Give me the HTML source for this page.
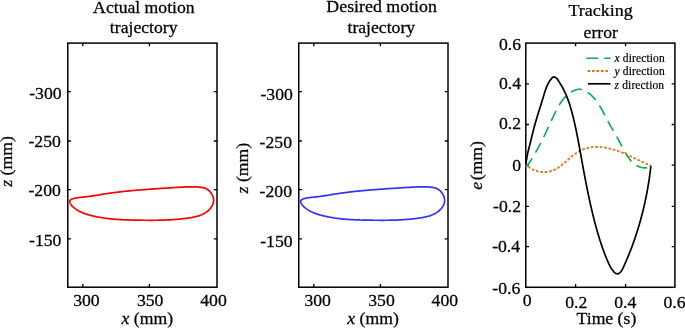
<!DOCTYPE html>
<html><head><meta charset="utf-8"><title>Trajectory tracking</title>
<style>html,body{margin:0;padding:0;background:#fff;overflow:hidden}svg{display:block}</style></head>
<body>
<svg width="685" height="328" viewBox="0 0 685 328">
<rect width="685" height="328" fill="#fff"/>
<g font-family="'Liberation Serif', serif" font-size="17" fill="#000" stroke="#000" stroke-width="0.25">
<rect x="67.75" y="43.1" width="149.25" height="244.10" fill="none" stroke="#000" stroke-width="1.5"/>
<path d="M82.8 43.1v3.2M82.8 287.2v-3.2M149.4 43.1v3.2M149.4 287.2v-3.2M67.75 91.7h3.2M217 91.7h-3.2M67.75 141.0h3.2M217 141.0h-3.2M67.75 189.7h3.2M217 189.7h-3.2M67.75 238.8h3.2M217 238.8h-3.2" stroke="#000" stroke-width="1.3" fill="none"/>
<path d="M69.66 201.32 L69.85 200.67 L70.23 200.10 L70.77 199.63 L71.43 199.26 L72.17 198.96 L72.94 198.72 L73.72 198.50 L74.50 198.31 L75.28 198.14 L76.06 197.98 L76.84 197.85 L77.61 197.72 L78.39 197.61 L79.17 197.51 L79.94 197.42 L80.71 197.34 L81.49 197.26 L82.26 197.18 L83.03 197.10 L83.81 197.03 L84.58 196.95 L85.35 196.86 L86.12 196.78 L86.89 196.68 L87.67 196.59 L88.44 196.49 L89.21 196.38 L89.98 196.28 L90.75 196.17 L91.52 196.06 L92.29 195.94 L93.06 195.83 L93.83 195.71 L94.60 195.59 L95.37 195.46 L96.14 195.34 L96.91 195.22 L97.68 195.09 L98.46 194.97 L99.23 194.84 L100.00 194.71 L100.77 194.59 L101.54 194.46 L102.31 194.34 L103.08 194.21 L103.85 194.09 L104.62 193.97 L105.39 193.85 L106.17 193.73 L106.94 193.61 L107.71 193.50 L108.48 193.38 L109.25 193.27 L110.03 193.16 L110.80 193.05 L111.57 192.95 L112.34 192.84 L113.12 192.74 L113.89 192.64 L114.66 192.54 L115.44 192.44 L116.21 192.34 L116.99 192.24 L117.76 192.15 L118.53 192.06 L119.31 191.96 L120.08 191.87 L120.86 191.78 L121.63 191.70 L122.41 191.61 L123.18 191.52 L123.96 191.44 L124.73 191.36 L125.51 191.27 L126.28 191.19 L127.06 191.11 L127.83 191.04 L128.61 190.96 L129.39 190.88 L130.16 190.81 L130.94 190.73 L131.71 190.66 L132.49 190.59 L133.27 190.52 L134.04 190.45 L134.82 190.38 L135.60 190.31 L136.37 190.24 L137.15 190.17 L137.93 190.11 L138.71 190.04 L139.48 189.98 L140.26 189.91 L141.04 189.85 L141.81 189.79 L142.59 189.73 L143.37 189.66 L144.15 189.60 L144.92 189.54 L145.70 189.49 L146.48 189.43 L147.26 189.37 L148.04 189.31 L148.81 189.25 L149.59 189.20 L150.37 189.14 L151.15 189.09 L151.93 189.03 L152.70 188.98 L153.48 188.92 L154.26 188.87 L155.04 188.81 L155.82 188.76 L156.59 188.71 L157.37 188.65 L158.15 188.60 L158.93 188.55 L159.71 188.50 L160.49 188.44 L161.26 188.39 L162.04 188.34 L162.82 188.29 L163.60 188.24 L164.38 188.19 L165.16 188.14 L165.93 188.09 L166.71 188.04 L167.49 187.99 L168.27 187.94 L169.05 187.90 L169.83 187.85 L170.61 187.80 L171.38 187.75 L172.16 187.71 L172.94 187.66 L173.72 187.61 L174.50 187.57 L175.28 187.52 L176.05 187.47 L176.83 187.43 L177.61 187.38 L178.39 187.34 L179.17 187.30 L179.95 187.25 L180.72 187.21 L181.50 187.16 L182.28 187.12 L183.06 187.08 L183.84 187.04 L184.62 187.00 L185.39 186.96 L186.17 186.93 L186.95 186.89 L187.73 186.87 L188.51 186.84 L189.29 186.82 L190.07 186.80 L190.85 186.79 L191.63 186.79 L192.41 186.79 L193.19 186.79 L193.97 186.80 L194.75 186.82 L195.53 186.85 L196.31 186.89 L197.10 186.93 L197.88 186.98 L198.66 187.04 L199.45 187.11 L200.23 187.19 L201.01 187.29 L201.78 187.40 L202.55 187.54 L203.31 187.71 L204.05 187.91 L204.78 188.14 L205.49 188.42 L206.19 188.73 L206.86 189.10 L207.51 189.51 L208.13 189.96 L208.73 190.46 L209.30 190.99 L209.85 191.56 L210.36 192.16 L210.85 192.80 L211.31 193.46 L211.74 194.14 L212.13 194.84 L212.49 195.57 L212.80 196.31 L213.07 197.05 L213.29 197.81 L213.46 198.57 L213.58 199.34 L213.64 200.10 L213.64 200.86 L213.58 201.61 L213.47 202.36 L213.29 203.09 L213.07 203.82 L212.79 204.53 L212.47 205.23 L212.11 205.91 L211.71 206.58 L211.27 207.24 L210.80 207.87 L210.29 208.49 L209.77 209.09 L209.21 209.66 L208.64 210.22 L208.05 210.75 L207.44 211.25 L206.82 211.73 L206.19 212.19 L205.55 212.62 L204.90 213.03 L204.23 213.42 L203.55 213.79 L202.87 214.14 L202.18 214.47 L201.47 214.78 L200.76 215.07 L200.04 215.35 L199.31 215.61 L198.58 215.85 L197.84 216.08 L197.09 216.29 L196.34 216.50 L195.58 216.69 L194.82 216.87 L194.05 217.04 L193.29 217.20 L192.51 217.35 L191.74 217.49 L190.96 217.62 L190.18 217.75 L189.40 217.87 L188.62 217.99 L187.84 218.10 L187.06 218.21 L186.28 218.32 L185.50 218.42 L184.72 218.52 L183.95 218.62 L183.17 218.71 L182.39 218.80 L181.61 218.88 L180.83 218.97 L180.05 219.04 L179.27 219.12 L178.50 219.19 L177.72 219.27 L176.94 219.33 L176.16 219.40 L175.39 219.46 L174.61 219.52 L173.83 219.58 L173.05 219.63 L172.28 219.68 L171.50 219.73 L170.72 219.78 L169.95 219.82 L169.17 219.86 L168.39 219.90 L167.62 219.94 L166.84 219.97 L166.06 220.01 L165.29 220.04 L164.51 220.06 L163.73 220.09 L162.96 220.11 L162.18 220.14 L161.40 220.16 L160.63 220.18 L159.85 220.19 L159.07 220.21 L158.30 220.22 L157.52 220.23 L156.74 220.24 L155.97 220.25 L155.19 220.26 L154.41 220.27 L153.63 220.27 L152.86 220.28 L152.08 220.28 L151.30 220.28 L150.52 220.28 L149.75 220.28 L148.97 220.28 L148.19 220.27 L147.41 220.27 L146.63 220.26 L145.85 220.26 L145.07 220.25 L144.29 220.24 L143.51 220.24 L142.73 220.23 L141.95 220.22 L141.17 220.21 L140.39 220.20 L139.61 220.19 L138.83 220.18 L138.05 220.17 L137.27 220.15 L136.49 220.14 L135.71 220.13 L134.92 220.12 L134.14 220.10 L133.36 220.09 L132.58 220.07 L131.79 220.05 L131.01 220.03 L130.23 220.01 L129.45 219.99 L128.66 219.97 L127.88 219.95 L127.10 219.92 L126.32 219.89 L125.53 219.86 L124.75 219.83 L123.97 219.80 L123.19 219.77 L122.40 219.73 L121.62 219.69 L120.84 219.65 L120.06 219.60 L119.28 219.56 L118.50 219.51 L117.72 219.46 L116.94 219.41 L116.16 219.35 L115.38 219.29 L114.60 219.23 L113.83 219.16 L113.05 219.10 L112.27 219.03 L111.50 218.95 L110.72 218.87 L109.94 218.79 L109.17 218.71 L108.40 218.62 L107.62 218.53 L106.85 218.43 L106.08 218.34 L105.31 218.23 L104.53 218.13 L103.76 218.01 L103.00 217.90 L102.23 217.78 L101.46 217.66 L100.69 217.53 L99.93 217.40 L99.16 217.26 L98.40 217.12 L97.64 216.97 L96.87 216.82 L96.11 216.67 L95.35 216.51 L94.59 216.34 L93.83 216.17 L93.08 215.99 L92.32 215.81 L91.57 215.63 L90.81 215.43 L90.06 215.24 L89.31 215.03 L88.56 214.82 L87.82 214.60 L87.07 214.37 L86.33 214.14 L85.60 213.89 L84.86 213.63 L84.13 213.37 L83.41 213.09 L82.69 212.80 L81.97 212.50 L81.26 212.18 L80.56 211.85 L79.86 211.51 L79.17 211.15 L78.48 210.77 L77.80 210.38 L77.13 209.98 L76.47 209.55 L75.81 209.11 L75.16 208.65 L74.52 208.17 L73.89 207.67 L73.28 207.15 L72.70 206.60 L72.13 206.03 L71.61 205.43 L71.12 204.81 L70.67 204.15 L70.28 203.46 L69.94 202.74 L69.71 202.02 L69.66 201.32 Z" fill="none" stroke="#ff0000" stroke-width="1.7" stroke-linejoin="round"/>
<text transform="translate(143.9,12.7) scale(1.0400,1)" text-anchor="middle" >Actual motion</text>
<text transform="translate(143.7,33.3) scale(1.0400,1)" text-anchor="middle" >trajectory</text>
<text transform="translate(61.6,98.5) scale(1.0400,1)" text-anchor="end" >-300</text>
<text transform="translate(60.8,147.1) scale(1.0400,1)" text-anchor="end" >-250</text>
<text transform="translate(60.8,195.7) scale(1.0400,1)" text-anchor="end" >-200</text>
<text transform="translate(61.4,245.5) scale(1.0400,1)" text-anchor="end" >-150</text>
<text transform="translate(86.4,305.5) scale(1.0400,1)" text-anchor="middle" >300</text>
<text transform="translate(150.2,305.5) scale(1.0400,1)" text-anchor="middle" >350</text>
<text transform="translate(213.5,305.5) scale(1.0400,1)" text-anchor="middle" >400</text>
<text transform="translate(147.3,324.1) scale(1.0400,1)" text-anchor="middle" ><tspan font-style="italic">x</tspan> (mm)</text>
<text transform="translate(12,161.5) rotate(-90) scale(1.0400,1)" text-anchor="middle" ><tspan font-style="italic">z</tspan> (mm)</text>
<rect x="298.75" y="43.1" width="149.25" height="244.10" fill="none" stroke="#000" stroke-width="1.5"/>
<path d="M313.8 43.1v3.2M313.8 287.2v-3.2M380.4 43.1v3.2M380.4 287.2v-3.2M298.75 91.7h3.2M448 91.7h-3.2M298.75 141.0h3.2M448 141.0h-3.2M298.75 189.7h3.2M448 189.7h-3.2M298.75 238.8h3.2M448 238.8h-3.2" stroke="#000" stroke-width="1.3" fill="none"/>
<path d="M300.66 201.32 L300.85 200.67 L301.23 200.10 L301.77 199.63 L302.43 199.26 L303.17 198.96 L303.94 198.72 L304.72 198.50 L305.50 198.31 L306.28 198.14 L307.06 197.98 L307.84 197.85 L308.61 197.72 L309.39 197.61 L310.17 197.51 L310.94 197.42 L311.71 197.34 L312.49 197.26 L313.26 197.18 L314.03 197.10 L314.81 197.03 L315.58 196.95 L316.35 196.86 L317.12 196.78 L317.89 196.68 L318.67 196.59 L319.44 196.49 L320.21 196.38 L320.98 196.28 L321.75 196.17 L322.52 196.06 L323.29 195.94 L324.06 195.83 L324.83 195.71 L325.60 195.59 L326.37 195.46 L327.14 195.34 L327.91 195.22 L328.68 195.09 L329.46 194.97 L330.23 194.84 L331.00 194.71 L331.77 194.59 L332.54 194.46 L333.31 194.34 L334.08 194.21 L334.85 194.09 L335.62 193.97 L336.39 193.85 L337.17 193.73 L337.94 193.61 L338.71 193.50 L339.48 193.38 L340.25 193.27 L341.03 193.16 L341.80 193.05 L342.57 192.95 L343.34 192.84 L344.12 192.74 L344.89 192.64 L345.66 192.54 L346.44 192.44 L347.21 192.34 L347.99 192.24 L348.76 192.15 L349.53 192.06 L350.31 191.96 L351.08 191.87 L351.86 191.78 L352.63 191.70 L353.41 191.61 L354.18 191.52 L354.96 191.44 L355.73 191.36 L356.51 191.27 L357.28 191.19 L358.06 191.11 L358.83 191.04 L359.61 190.96 L360.39 190.88 L361.16 190.81 L361.94 190.73 L362.71 190.66 L363.49 190.59 L364.27 190.52 L365.04 190.45 L365.82 190.38 L366.60 190.31 L367.37 190.24 L368.15 190.17 L368.93 190.11 L369.71 190.04 L370.48 189.98 L371.26 189.91 L372.04 189.85 L372.81 189.79 L373.59 189.73 L374.37 189.66 L375.15 189.60 L375.92 189.54 L376.70 189.49 L377.48 189.43 L378.26 189.37 L379.04 189.31 L379.81 189.25 L380.59 189.20 L381.37 189.14 L382.15 189.09 L382.93 189.03 L383.70 188.98 L384.48 188.92 L385.26 188.87 L386.04 188.81 L386.82 188.76 L387.59 188.71 L388.37 188.65 L389.15 188.60 L389.93 188.55 L390.71 188.50 L391.49 188.44 L392.26 188.39 L393.04 188.34 L393.82 188.29 L394.60 188.24 L395.38 188.19 L396.16 188.14 L396.93 188.09 L397.71 188.04 L398.49 187.99 L399.27 187.94 L400.05 187.90 L400.83 187.85 L401.61 187.80 L402.38 187.75 L403.16 187.71 L403.94 187.66 L404.72 187.61 L405.50 187.57 L406.28 187.52 L407.05 187.47 L407.83 187.43 L408.61 187.38 L409.39 187.34 L410.17 187.30 L410.95 187.25 L411.72 187.21 L412.50 187.16 L413.28 187.12 L414.06 187.08 L414.84 187.04 L415.62 187.00 L416.39 186.96 L417.17 186.93 L417.95 186.89 L418.73 186.87 L419.51 186.84 L420.29 186.82 L421.07 186.80 L421.85 186.79 L422.63 186.79 L423.41 186.79 L424.19 186.79 L424.97 186.80 L425.75 186.82 L426.53 186.85 L427.31 186.89 L428.10 186.93 L428.88 186.98 L429.66 187.04 L430.45 187.11 L431.23 187.19 L432.01 187.29 L432.78 187.40 L433.55 187.54 L434.31 187.71 L435.05 187.91 L435.78 188.14 L436.49 188.42 L437.19 188.73 L437.86 189.10 L438.51 189.51 L439.13 189.96 L439.73 190.46 L440.30 190.99 L440.85 191.56 L441.36 192.16 L441.85 192.80 L442.31 193.46 L442.74 194.14 L443.13 194.84 L443.49 195.57 L443.80 196.31 L444.07 197.05 L444.29 197.81 L444.46 198.57 L444.58 199.34 L444.64 200.10 L444.64 200.86 L444.58 201.61 L444.47 202.36 L444.29 203.09 L444.07 203.82 L443.79 204.53 L443.47 205.23 L443.11 205.91 L442.71 206.58 L442.27 207.24 L441.80 207.87 L441.29 208.49 L440.77 209.09 L440.21 209.66 L439.64 210.22 L439.05 210.75 L438.44 211.25 L437.82 211.73 L437.19 212.19 L436.55 212.62 L435.90 213.03 L435.23 213.42 L434.55 213.79 L433.87 214.14 L433.18 214.47 L432.47 214.78 L431.76 215.07 L431.04 215.35 L430.31 215.61 L429.58 215.85 L428.84 216.08 L428.09 216.29 L427.34 216.50 L426.58 216.69 L425.82 216.87 L425.05 217.04 L424.29 217.20 L423.51 217.35 L422.74 217.49 L421.96 217.62 L421.18 217.75 L420.40 217.87 L419.62 217.99 L418.84 218.10 L418.06 218.21 L417.28 218.32 L416.50 218.42 L415.72 218.52 L414.95 218.62 L414.17 218.71 L413.39 218.80 L412.61 218.88 L411.83 218.97 L411.05 219.04 L410.27 219.12 L409.50 219.19 L408.72 219.27 L407.94 219.33 L407.16 219.40 L406.39 219.46 L405.61 219.52 L404.83 219.58 L404.05 219.63 L403.28 219.68 L402.50 219.73 L401.72 219.78 L400.95 219.82 L400.17 219.86 L399.39 219.90 L398.62 219.94 L397.84 219.97 L397.06 220.01 L396.29 220.04 L395.51 220.06 L394.73 220.09 L393.96 220.11 L393.18 220.14 L392.40 220.16 L391.63 220.18 L390.85 220.19 L390.07 220.21 L389.30 220.22 L388.52 220.23 L387.74 220.24 L386.97 220.25 L386.19 220.26 L385.41 220.27 L384.63 220.27 L383.86 220.28 L383.08 220.28 L382.30 220.28 L381.52 220.28 L380.75 220.28 L379.97 220.28 L379.19 220.27 L378.41 220.27 L377.63 220.26 L376.85 220.26 L376.07 220.25 L375.29 220.24 L374.51 220.24 L373.73 220.23 L372.95 220.22 L372.17 220.21 L371.39 220.20 L370.61 220.19 L369.83 220.18 L369.05 220.17 L368.27 220.15 L367.49 220.14 L366.71 220.13 L365.92 220.12 L365.14 220.10 L364.36 220.09 L363.58 220.07 L362.79 220.05 L362.01 220.03 L361.23 220.01 L360.45 219.99 L359.66 219.97 L358.88 219.95 L358.10 219.92 L357.32 219.89 L356.53 219.86 L355.75 219.83 L354.97 219.80 L354.19 219.77 L353.40 219.73 L352.62 219.69 L351.84 219.65 L351.06 219.60 L350.28 219.56 L349.50 219.51 L348.72 219.46 L347.94 219.41 L347.16 219.35 L346.38 219.29 L345.60 219.23 L344.83 219.16 L344.05 219.10 L343.27 219.03 L342.50 218.95 L341.72 218.87 L340.94 218.79 L340.17 218.71 L339.40 218.62 L338.62 218.53 L337.85 218.43 L337.08 218.34 L336.31 218.23 L335.53 218.13 L334.76 218.01 L334.00 217.90 L333.23 217.78 L332.46 217.66 L331.69 217.53 L330.93 217.40 L330.16 217.26 L329.40 217.12 L328.64 216.97 L327.87 216.82 L327.11 216.67 L326.35 216.51 L325.59 216.34 L324.83 216.17 L324.08 215.99 L323.32 215.81 L322.57 215.63 L321.81 215.43 L321.06 215.24 L320.31 215.03 L319.56 214.82 L318.82 214.60 L318.07 214.37 L317.33 214.14 L316.60 213.89 L315.86 213.63 L315.13 213.37 L314.41 213.09 L313.69 212.80 L312.97 212.50 L312.26 212.18 L311.56 211.85 L310.86 211.51 L310.17 211.15 L309.48 210.77 L308.80 210.38 L308.13 209.98 L307.47 209.55 L306.81 209.11 L306.16 208.65 L305.52 208.17 L304.89 207.67 L304.28 207.15 L303.70 206.60 L303.13 206.03 L302.61 205.43 L302.12 204.81 L301.67 204.15 L301.28 203.46 L300.94 202.74 L300.71 202.02 L300.66 201.32 Z" fill="none" stroke="#3333ff" stroke-width="1.7" stroke-linejoin="round"/>
<text transform="translate(381.6,12.2) scale(1.0504,1)" text-anchor="middle" >Desired motion</text>
<text transform="translate(381.3,33.3) scale(1.0400,1)" text-anchor="middle" >trajectory</text>
<text transform="translate(292.8,99.6) scale(1.0400,1)" text-anchor="end" >-300</text>
<text transform="translate(292.0,148.2) scale(1.0400,1)" text-anchor="end" >-250</text>
<text transform="translate(292.0,196.79999999999998) scale(1.0400,1)" text-anchor="end" >-200</text>
<text transform="translate(292.59999999999997,246.6) scale(1.0400,1)" text-anchor="end" >-150</text>
<text transform="translate(317.70000000000005,305.5) scale(1.0400,1)" text-anchor="middle" >300</text>
<text transform="translate(381.5,305.5) scale(1.0400,1)" text-anchor="middle" >350</text>
<text transform="translate(444.8,305.5) scale(1.0400,1)" text-anchor="middle" >400</text>
<text transform="translate(373.1,324.1) scale(1.0400,1)" text-anchor="middle" ><tspan font-style="italic">x</tspan> (mm)</text>
<text transform="translate(247.8,168.1) rotate(-90) scale(1.0400,1)" text-anchor="middle" ><tspan font-style="italic">z</tspan> (mm)</text>
<rect x="525.8" y="43.1" width="149.10" height="244.20" fill="none" stroke="#000" stroke-width="1.5"/>
<path d="M575.6 43.1v3.2M575.6 287.3v-3.2M625.6 43.1v3.2M625.6 287.3v-3.2M525.8 83.9h3.2M674.9 83.9h-3.2M525.8 124.5h3.2M674.9 124.5h-3.2M525.8 165.2h3.2M674.9 165.2h-3.2M525.8 206.3h3.2M674.9 206.3h-3.2M525.8 246.6h3.2M674.9 246.6h-3.2" stroke="#000" stroke-width="1.3" fill="none"/>
<path d="M525.84 167.61 L526.16 167.17 L526.47 166.73 L526.79 166.29 L527.10 165.85 L527.41 165.41 L527.72 164.96 L528.02 164.52 L528.33 164.08 L528.63 163.64 L528.93 163.19 L529.23 162.75 L529.52 162.31 L529.82 161.86 L530.11 161.42 L530.40 160.97 L530.69 160.52 L530.98 160.08 L531.26 159.63 L531.55 159.18 L531.83 158.74 L532.11 158.29 L532.39 157.84 L532.67 157.39 L532.94 156.94 L533.22 156.49 L533.49 156.04 L533.76 155.59 L534.03 155.14 L534.30 154.69 L534.56 154.23 L534.83 153.78 L535.09 153.33 L535.36 152.88 L535.62 152.42 L535.88 151.97 L536.14 151.51 L536.39 151.06 L536.65 150.60 L536.90 150.14 L537.16 149.69 L537.41 149.23 L537.66 148.77 L537.91 148.31 L538.16 147.86 L538.41 147.40 L538.66 146.94 L538.90 146.48 L539.15 146.02 L539.39 145.56 L539.63 145.09 L539.88 144.63 L540.12 144.17 L540.36 143.71 L540.60 143.24 L540.83 142.78 L541.07 142.31 L541.31 141.85 L541.54 141.38 L541.78 140.92 L542.01 140.45 L542.25 139.99 L542.48 139.52 L542.71 139.05 L542.95 138.58 L543.18 138.11 L543.41 137.64 L543.64 137.17 L543.87 136.70 L544.10 136.23 L544.32 135.76 L544.55 135.29 L544.78 134.82 L545.01 134.35 L545.23 133.87 L545.46 133.40 L545.69 132.93 L545.91 132.45 L546.14 131.98 L546.36 131.50 L546.59 131.02 L546.81 130.55 L547.04 130.07 L547.26 129.59 L547.49 129.11 L547.71 128.64 L547.93 128.16 L548.16 127.68 L548.38 127.20 L548.60 126.72 L548.83 126.23 L549.05 125.75 L549.28 125.27 L549.50 124.79 L549.72 124.30 L549.95 123.82 L550.17 123.34 L550.40 122.85 L550.62 122.37 L550.84 121.88 L551.07 121.39 L551.29 120.91 L551.52 120.42 L551.74 119.93 L551.97 119.44 L552.20 118.95 L552.42 118.47 L552.65 117.98 L552.88 117.48 L553.11 116.99 L553.33 116.50 L553.56 116.01 L553.79 115.52 L554.02 115.03 L554.26 114.54 L554.49 114.05 L554.72 113.56 L554.96 113.07 L555.20 112.58 L555.44 112.09 L555.68 111.60 L555.92 111.12 L556.16 110.63 L556.41 110.15 L556.66 109.67 L556.91 109.19 L557.16 108.71 L557.42 108.24 L557.68 107.76 L557.94 107.29 L558.20 106.82 L558.46 106.36 L558.73 105.89 L559.01 105.43 L559.28 104.97 L559.56 104.52 L559.84 104.07 L560.13 103.62 L560.42 103.17 L560.71 102.73 L561.00 102.29 L561.30 101.86 L561.61 101.43 L561.92 101.00 L562.23 100.58 L562.55 100.16 L562.87 99.75 L563.19 99.34 L563.52 98.93 L563.86 98.53 L564.20 98.14 L564.54 97.75 L564.89 97.37 L565.25 96.99 L565.61 96.61 L565.98 96.25 L566.35 95.89 L566.72 95.53 L567.11 95.18 L567.50 94.84 L567.89 94.50 L568.29 94.17 L568.70 93.84 L569.11 93.53 L569.53 93.21 L569.95 92.91 L570.39 92.61 L570.83 92.32 L571.27 92.04 L571.72 91.77 L572.18 91.50 L572.65 91.24 L573.12 91.00 L573.59 90.76 L574.07 90.54 L574.55 90.34 L575.04 90.14 L575.53 89.97 L576.03 89.81 L576.52 89.67 L577.02 89.55 L577.52 89.45 L578.02 89.37 L578.52 89.31 L579.02 89.28 L579.52 89.27 L580.02 89.29 L580.52 89.34 L581.01 89.41 L581.51 89.50 L582.00 89.61 L582.49 89.75 L582.98 89.91 L583.46 90.09 L583.94 90.28 L584.42 90.49 L584.89 90.72 L585.36 90.96 L585.82 91.21 L586.28 91.47 L586.73 91.75 L587.17 92.03 L587.61 92.32 L588.04 92.62 L588.47 92.92 L588.89 93.23 L589.31 93.55 L589.71 93.88 L590.12 94.21 L590.51 94.55 L590.91 94.90 L591.29 95.25 L591.67 95.60 L592.05 95.97 L592.42 96.34 L592.79 96.71 L593.15 97.09 L593.51 97.48 L593.86 97.87 L594.20 98.27 L594.55 98.67 L594.89 99.07 L595.22 99.48 L595.55 99.90 L595.88 100.32 L596.20 100.74 L596.52 101.17 L596.83 101.60 L597.14 102.04 L597.45 102.48 L597.75 102.92 L598.05 103.37 L598.35 103.82 L598.64 104.27 L598.93 104.72 L599.22 105.18 L599.51 105.64 L599.79 106.11 L600.07 106.57 L600.35 107.04 L600.62 107.51 L600.89 107.98 L601.17 108.46 L601.43 108.93 L601.70 109.41 L601.96 109.89 L602.23 110.37 L602.49 110.85 L602.75 111.33 L603.01 111.81 L603.26 112.29 L603.52 112.78 L603.77 113.26 L604.03 113.74 L604.28 114.23 L604.53 114.71 L604.78 115.20 L605.03 115.68 L605.28 116.16 L605.53 116.64 L605.78 117.13 L606.02 117.61 L606.27 118.08 L606.52 118.56 L606.77 119.04 L607.02 119.51 L607.27 119.99 L607.51 120.46 L607.76 120.93 L608.01 121.40 L608.26 121.86 L608.52 122.33 L608.77 122.79 L609.02 123.25 L609.27 123.71 L609.53 124.16 L609.78 124.62 L610.03 125.07 L610.29 125.52 L610.54 125.98 L610.80 126.43 L611.05 126.88 L611.31 127.32 L611.56 127.77 L611.82 128.22 L612.08 128.66 L612.33 129.11 L612.59 129.55 L612.85 130.00 L613.10 130.44 L613.36 130.89 L613.62 131.33 L613.88 131.78 L614.13 132.22 L614.39 132.67 L614.65 133.11 L614.91 133.56 L615.16 134.00 L615.42 134.45 L615.68 134.89 L615.93 135.34 L616.19 135.79 L616.45 136.24 L616.70 136.69 L616.96 137.14 L617.22 137.59 L617.47 138.05 L617.73 138.50 L617.98 138.96 L618.24 139.42 L618.49 139.88 L618.75 140.34 L619.00 140.81 L619.25 141.27 L619.51 141.74 L619.76 142.21 L620.01 142.68 L620.26 143.16 L620.51 143.63 L620.76 144.11 L621.01 144.59 L621.26 145.07 L621.51 145.56 L621.77 146.04 L622.02 146.53 L622.27 147.01 L622.52 147.50 L622.78 147.98 L623.03 148.47 L623.29 148.95 L623.54 149.44 L623.80 149.92 L624.06 150.40 L624.33 150.88 L624.59 151.36 L624.86 151.84 L625.13 152.32 L625.40 152.79 L625.67 153.26 L625.95 153.73 L626.23 154.19 L626.51 154.65 L626.80 155.11 L627.09 155.56 L627.38 156.01 L627.68 156.46 L627.98 156.90 L628.28 157.34 L628.59 157.77 L628.90 158.19 L629.22 158.61 L629.54 159.03 L629.87 159.44 L630.20 159.84 L630.53 160.24 L630.87 160.63 L631.22 161.01 L631.57 161.39 L631.93 161.75 L632.29 162.12 L632.66 162.47 L633.03 162.81 L633.41 163.15 L633.80 163.48 L634.20 163.80 L634.60 164.11 L635.00 164.41 L635.42 164.70 L635.84 164.99 L636.27 165.26 L636.70 165.52 L637.15 165.77 L637.60 166.01 L638.05 166.24 L638.52 166.46 L638.99 166.67 L639.47 166.86 L639.95 167.03 L640.44 167.19 L640.93 167.34 L641.43 167.47 L641.93 167.58 L642.44 167.68 L642.95 167.75 L643.47 167.81 L643.99 167.85 L644.51 167.86 L645.03 167.86 L645.55 167.83 L646.08 167.78 L646.61 167.71 L647.14 167.62 L647.67 167.49 L648.20 167.35 L648.74 167.18 L649.27 166.98 L649.80 166.75 L650.33 166.50 L650.86 166.21 L651.39 165.90" fill="none" stroke="#00b050" stroke-width="1.6" stroke-dasharray="11.2 6.56" stroke-dashoffset="0"/>
<path d="M525.67 164.28 L525.96 164.57 L526.26 164.85 L526.55 165.12 L526.85 165.39 L527.15 165.65 L527.45 165.91 L527.75 166.16 L528.05 166.41 L528.36 166.65 L528.67 166.88 L528.97 167.11 L529.28 167.34 L529.59 167.55 L529.90 167.77 L530.22 167.98 L530.53 168.18 L530.85 168.38 L531.16 168.57 L531.48 168.75 L531.80 168.94 L532.12 169.11 L532.44 169.28 L532.76 169.45 L533.09 169.61 L533.41 169.76 L533.73 169.91 L534.06 170.06 L534.39 170.20 L534.71 170.33 L535.04 170.46 L535.37 170.59 L535.70 170.71 L536.03 170.82 L536.36 170.93 L536.69 171.04 L537.02 171.14 L537.35 171.23 L537.68 171.32 L538.02 171.41 L538.35 171.49 L538.68 171.56 L539.02 171.63 L539.35 171.70 L539.69 171.76 L540.02 171.81 L540.35 171.86 L540.69 171.91 L541.02 171.95 L541.36 171.99 L541.69 172.02 L542.03 172.05 L542.36 172.07 L542.70 172.09 L543.03 172.10 L543.37 172.11 L543.70 172.12 L544.03 172.12 L544.37 172.11 L544.70 172.10 L545.03 172.09 L545.37 172.07 L545.70 172.05 L546.03 172.02 L546.36 171.99 L546.69 171.95 L547.02 171.91 L547.35 171.87 L547.68 171.82 L548.01 171.77 L548.34 171.71 L548.66 171.65 L548.99 171.58 L549.31 171.51 L549.64 171.43 L549.96 171.36 L550.28 171.27 L550.60 171.19 L550.92 171.09 L551.24 171.00 L551.56 170.90 L551.88 170.80 L552.19 170.69 L552.51 170.58 L552.82 170.46 L553.14 170.34 L553.45 170.22 L553.76 170.09 L554.06 169.96 L554.37 169.82 L554.68 169.68 L554.98 169.54 L555.28 169.39 L555.58 169.24 L555.88 169.09 L556.18 168.93 L556.48 168.76 L556.77 168.60 L557.06 168.43 L557.35 168.25 L557.64 168.08 L557.93 167.90 L558.22 167.71 L558.50 167.53 L558.79 167.34 L559.07 167.15 L559.35 166.95 L559.63 166.75 L559.91 166.55 L560.19 166.35 L560.47 166.14 L560.74 165.93 L561.02 165.72 L561.29 165.51 L561.57 165.29 L561.84 165.08 L562.11 164.86 L562.38 164.64 L562.65 164.41 L562.92 164.19 L563.19 163.96 L563.46 163.74 L563.73 163.51 L563.99 163.28 L564.26 163.05 L564.53 162.81 L564.79 162.58 L565.06 162.35 L565.32 162.11 L565.59 161.88 L565.85 161.64 L566.12 161.40 L566.38 161.16 L566.65 160.93 L566.91 160.69 L567.18 160.45 L567.44 160.21 L567.71 159.97 L567.97 159.73 L568.24 159.50 L568.50 159.26 L568.77 159.02 L569.03 158.78 L569.30 158.55 L569.57 158.31 L569.83 158.07 L570.10 157.84 L570.37 157.61 L570.64 157.37 L570.91 157.14 L571.18 156.91 L571.45 156.68 L571.72 156.45 L571.99 156.23 L572.27 156.00 L572.54 155.78 L572.81 155.56 L573.09 155.34 L573.37 155.12 L573.64 154.91 L573.92 154.69 L574.20 154.48 L574.48 154.27 L574.77 154.07 L575.05 153.86 L575.34 153.66 L575.62 153.46 L575.91 153.27 L576.20 153.07 L576.49 152.88 L576.78 152.69 L577.07 152.51 L577.36 152.32 L577.66 152.14 L577.95 151.97 L578.25 151.79 L578.55 151.62 L578.85 151.45 L579.15 151.28 L579.45 151.12 L579.75 150.96 L580.05 150.80 L580.36 150.64 L580.66 150.49 L580.97 150.34 L581.28 150.19 L581.59 150.05 L581.90 149.91 L582.21 149.77 L582.52 149.64 L582.83 149.51 L583.14 149.38 L583.46 149.26 L583.77 149.13 L584.09 149.02 L584.41 148.90 L584.73 148.79 L585.05 148.68 L585.37 148.58 L585.69 148.48 L586.01 148.38 L586.33 148.28 L586.66 148.19 L586.98 148.11 L587.31 148.02 L587.63 147.94 L587.96 147.86 L588.29 147.79 L588.62 147.72 L588.95 147.65 L589.28 147.58 L589.61 147.52 L589.94 147.46 L590.28 147.41 L590.61 147.36 L590.94 147.31 L591.28 147.26 L591.61 147.22 L591.95 147.18 L592.29 147.14 L592.62 147.11 L592.96 147.08 L593.30 147.05 L593.64 147.02 L593.98 147.00 L594.32 146.98 L594.66 146.97 L595.00 146.95 L595.34 146.94 L595.68 146.93 L596.03 146.93 L596.37 146.92 L596.71 146.92 L597.06 146.93 L597.40 146.93 L597.74 146.94 L598.09 146.95 L598.43 146.96 L598.78 146.98 L599.13 146.99 L599.47 147.01 L599.82 147.04 L600.16 147.06 L600.51 147.09 L600.86 147.12 L601.20 147.15 L601.55 147.18 L601.90 147.22 L602.25 147.26 L602.59 147.30 L602.94 147.35 L603.29 147.39 L603.64 147.44 L603.98 147.49 L604.33 147.54 L604.68 147.60 L605.03 147.65 L605.38 147.71 L605.72 147.77 L606.07 147.83 L606.42 147.90 L606.77 147.96 L607.11 148.03 L607.46 148.10 L607.81 148.17 L608.16 148.25 L608.50 148.32 L608.85 148.40 L609.20 148.48 L609.54 148.56 L609.89 148.65 L610.24 148.73 L610.58 148.82 L610.93 148.90 L611.27 148.99 L611.62 149.09 L611.96 149.18 L612.31 149.27 L612.65 149.37 L612.99 149.47 L613.34 149.56 L613.68 149.66 L614.02 149.77 L614.36 149.87 L614.70 149.97 L615.05 150.08 L615.39 150.19 L615.73 150.30 L616.07 150.41 L616.40 150.52 L616.74 150.63 L617.08 150.74 L617.42 150.86 L617.75 150.97 L618.09 151.09 L618.43 151.21 L618.76 151.33 L619.09 151.45 L619.43 151.57 L619.76 151.69 L620.09 151.82 L620.42 151.94 L620.75 152.07 L621.08 152.19 L621.41 152.32 L621.74 152.45 L622.07 152.58 L622.39 152.71 L622.72 152.84 L623.04 152.97 L623.37 153.10 L623.69 153.23 L624.01 153.37 L624.33 153.50 L624.66 153.63 L624.98 153.77 L625.29 153.91 L625.61 154.04 L625.93 154.18 L626.25 154.32 L626.57 154.46 L626.88 154.60 L627.20 154.74 L627.51 154.88 L627.83 155.02 L628.14 155.16 L628.45 155.30 L628.76 155.44 L629.08 155.59 L629.39 155.73 L629.70 155.87 L630.01 156.02 L630.32 156.16 L630.63 156.31 L630.94 156.45 L631.25 156.60 L631.56 156.74 L631.87 156.89 L632.18 157.03 L632.49 157.18 L632.79 157.33 L633.10 157.47 L633.41 157.62 L633.72 157.77 L634.02 157.92 L634.33 158.06 L634.64 158.21 L634.95 158.36 L635.25 158.51 L635.56 158.66 L635.87 158.80 L636.17 158.95 L636.48 159.10 L636.79 159.25 L637.09 159.40 L637.40 159.55 L637.71 159.69 L638.02 159.84 L638.32 159.99 L638.63 160.14 L638.94 160.29 L639.25 160.44 L639.56 160.58 L639.86 160.73 L640.17 160.88 L640.48 161.03 L640.79 161.17 L641.10 161.32 L641.41 161.47 L641.72 161.61 L642.03 161.76 L642.34 161.91 L642.65 162.05 L642.97 162.20 L643.28 162.34 L643.59 162.49 L643.91 162.63 L644.22 162.77 L644.53 162.92 L644.85 163.06 L645.17 163.20 L645.48 163.35 L645.80 163.49 L646.12 163.63 L646.43 163.77 L646.75 163.91 L647.07 164.05 L647.39 164.19 L647.72 164.33 L648.04 164.46 L648.36 164.60 L648.68 164.74 L649.01 164.87 L649.33 165.01 L649.66 165.14 L649.99 165.28 L650.31 165.41 L650.64 165.54 L650.97 165.68 L651.30 165.81" fill="none" stroke="#e27a22" stroke-width="1.9" stroke-dasharray="2.75 1.7" stroke-dashoffset="1.07"/>
<path d="M525.86 164.74 L525.97 163.79 L526.08 162.86 L526.20 161.95 L526.32 161.07 L526.44 160.21 L526.57 159.37 L526.70 158.55 L526.84 157.75 L526.97 156.97 L527.11 156.20 L527.26 155.45 L527.40 154.71 L527.55 153.99 L527.70 153.28 L527.85 152.58 L528.01 151.89 L528.16 151.21 L528.32 150.54 L528.48 149.87 L528.64 149.22 L528.81 148.56 L528.97 147.92 L529.13 147.27 L529.30 146.63 L529.46 145.99 L529.63 145.35 L529.79 144.71 L529.96 144.06 L530.12 143.42 L530.29 142.76 L530.46 142.11 L530.62 141.45 L530.78 140.79 L530.95 140.12 L531.11 139.45 L531.28 138.78 L531.44 138.10 L531.61 137.42 L531.78 136.74 L531.94 136.06 L532.11 135.37 L532.28 134.69 L532.45 134.00 L532.62 133.31 L532.79 132.63 L532.96 131.94 L533.13 131.25 L533.31 130.57 L533.48 129.88 L533.66 129.20 L533.84 128.51 L534.02 127.83 L534.20 127.15 L534.39 126.48 L534.57 125.80 L534.76 125.12 L534.95 124.45 L535.13 123.78 L535.32 123.11 L535.52 122.43 L535.71 121.76 L535.90 121.10 L536.10 120.43 L536.29 119.76 L536.49 119.10 L536.69 118.43 L536.89 117.77 L537.09 117.10 L537.29 116.44 L537.49 115.78 L537.69 115.11 L537.89 114.45 L538.09 113.79 L538.30 113.13 L538.50 112.47 L538.70 111.81 L538.91 111.15 L539.11 110.49 L539.32 109.83 L539.52 109.17 L539.73 108.51 L539.93 107.85 L540.14 107.19 L540.35 106.54 L540.55 105.88 L540.76 105.22 L540.96 104.56 L541.17 103.90 L541.37 103.24 L541.58 102.58 L541.78 101.92 L541.99 101.26 L542.19 100.60 L542.40 99.93 L542.60 99.27 L542.80 98.61 L543.01 97.95 L543.21 97.28 L543.41 96.62 L543.61 95.95 L543.81 95.28 L544.01 94.62 L544.21 93.95 L544.41 93.28 L544.61 92.62 L544.82 91.95 L545.03 91.29 L545.25 90.62 L545.47 89.96 L545.69 89.31 L545.93 88.65 L546.17 88.00 L546.42 87.35 L546.68 86.71 L546.95 86.07 L547.23 85.43 L547.52 84.80 L547.82 84.18 L548.14 83.56 L548.47 82.94 L548.81 82.34 L549.18 81.74 L549.55 81.15 L549.95 80.56 L550.36 79.98 L550.79 79.42 L551.24 78.86 L551.71 78.31 L552.20 77.77 L552.74 77.32 L553.34 77.03 L554.03 76.96 L554.76 77.12 L555.50 77.44 L556.17 77.87 L556.75 78.38 L557.25 78.95 L557.69 79.56 L558.10 80.18 L558.48 80.82 L558.86 81.44 L559.23 82.06 L559.60 82.67 L559.97 83.27 L560.33 83.87 L560.70 84.46 L561.05 85.05 L561.40 85.64 L561.75 86.23 L562.09 86.82 L562.43 87.41 L562.76 88.00 L563.08 88.60 L563.40 89.20 L563.72 89.80 L564.03 90.41 L564.33 91.02 L564.63 91.64 L564.92 92.26 L565.21 92.88 L565.49 93.50 L565.77 94.13 L566.05 94.76 L566.32 95.39 L566.58 96.03 L566.84 96.66 L567.10 97.31 L567.35 97.95 L567.60 98.59 L567.84 99.24 L568.08 99.89 L568.31 100.54 L568.55 101.20 L568.77 101.85 L569.00 102.51 L569.22 103.17 L569.44 103.83 L569.65 104.49 L569.86 105.16 L570.07 105.82 L570.27 106.49 L570.47 107.16 L570.67 107.83 L570.87 108.50 L571.06 109.17 L571.25 109.85 L571.44 110.52 L571.63 111.19 L571.81 111.87 L571.99 112.55 L572.17 113.22 L572.35 113.90 L572.52 114.58 L572.69 115.26 L572.86 115.94 L573.03 116.62 L573.20 117.30 L573.37 117.98 L573.53 118.66 L573.70 119.34 L573.86 120.02 L574.02 120.70 L574.18 121.38 L574.34 122.06 L574.49 122.74 L574.65 123.42 L574.80 124.10 L574.95 124.78 L575.10 125.46 L575.25 126.14 L575.40 126.82 L575.55 127.50 L575.70 128.18 L575.84 128.86 L575.99 129.55 L576.13 130.23 L576.27 130.91 L576.41 131.59 L576.55 132.27 L576.69 132.95 L576.83 133.64 L576.97 134.32 L577.10 135.00 L577.24 135.68 L577.37 136.36 L577.51 137.05 L577.64 137.73 L577.77 138.41 L577.91 139.09 L578.04 139.78 L578.17 140.46 L578.30 141.14 L578.43 141.82 L578.55 142.51 L578.68 143.19 L578.81 143.87 L578.94 144.55 L579.06 145.24 L579.19 145.92 L579.31 146.60 L579.44 147.29 L579.56 147.97 L579.69 148.65 L579.81 149.34 L579.94 150.02 L580.06 150.70 L580.18 151.39 L580.30 152.07 L580.43 152.75 L580.55 153.43 L580.67 154.12 L580.79 154.80 L580.92 155.48 L581.04 156.17 L581.16 156.85 L581.28 157.53 L581.40 158.22 L581.53 158.90 L581.65 159.58 L581.77 160.27 L581.89 160.95 L582.01 161.63 L582.14 162.32 L582.26 163.00 L582.38 163.68 L582.51 164.37 L582.63 165.05 L582.75 165.73 L582.88 166.42 L583.00 167.10 L583.13 167.78 L583.25 168.47 L583.38 169.15 L583.50 169.83 L583.63 170.52 L583.75 171.20 L583.88 171.88 L584.01 172.57 L584.13 173.25 L584.26 173.93 L584.39 174.61 L584.52 175.30 L584.65 175.98 L584.78 176.66 L584.91 177.35 L585.04 178.03 L585.17 178.71 L585.30 179.39 L585.43 180.08 L585.56 180.76 L585.70 181.44 L585.83 182.12 L585.96 182.81 L586.10 183.49 L586.23 184.17 L586.37 184.85 L586.50 185.53 L586.64 186.22 L586.77 186.90 L586.91 187.58 L587.05 188.26 L587.19 188.94 L587.33 189.62 L587.46 190.31 L587.60 190.99 L587.74 191.67 L587.89 192.35 L588.03 193.03 L588.17 193.71 L588.31 194.39 L588.46 195.07 L588.60 195.76 L588.74 196.44 L588.89 197.12 L589.03 197.80 L589.18 198.48 L589.33 199.16 L589.48 199.84 L589.62 200.52 L589.77 201.20 L589.92 201.88 L590.07 202.56 L590.22 203.24 L590.38 203.92 L590.53 204.60 L590.68 205.27 L590.84 205.95 L590.99 206.63 L591.15 207.31 L591.30 207.99 L591.46 208.67 L591.62 209.35 L591.78 210.03 L591.94 210.70 L592.10 211.38 L592.26 212.06 L592.42 212.74 L592.58 213.42 L592.74 214.09 L592.91 214.77 L593.07 215.45 L593.24 216.12 L593.41 216.80 L593.57 217.48 L593.74 218.15 L593.91 218.83 L594.08 219.50 L594.26 220.18 L594.43 220.85 L594.60 221.53 L594.78 222.20 L594.95 222.88 L595.13 223.55 L595.31 224.23 L595.49 224.90 L595.67 225.57 L595.85 226.24 L596.03 226.92 L596.22 227.59 L596.40 228.26 L596.59 228.93 L596.78 229.60 L596.96 230.27 L597.15 230.94 L597.35 231.61 L597.54 232.28 L597.73 232.94 L597.93 233.61 L598.13 234.28 L598.32 234.95 L598.52 235.61 L598.73 236.28 L598.93 236.94 L599.13 237.61 L599.34 238.27 L599.54 238.93 L599.75 239.60 L599.96 240.26 L600.17 240.92 L600.39 241.58 L600.60 242.24 L600.82 242.90 L601.04 243.56 L601.26 244.22 L601.48 244.88 L601.70 245.53 L601.93 246.19 L602.15 246.85 L602.38 247.50 L602.61 248.16 L602.84 248.81 L603.07 249.46 L603.31 250.11 L603.55 250.76 L603.79 251.42 L604.03 252.06 L604.27 252.71 L604.51 253.36 L604.76 254.01 L605.01 254.66 L605.26 255.30 L605.51 255.95 L605.76 256.59 L606.02 257.23 L606.28 257.87 L606.54 258.52 L606.80 259.16 L607.06 259.80 L607.33 260.43 L607.60 261.07 L607.88 261.70 L608.16 262.34 L608.44 262.97 L608.74 263.59 L609.04 264.22 L609.35 264.84 L609.66 265.45 L609.99 266.07 L610.33 266.67 L610.67 267.28 L611.03 267.87 L611.40 268.47 L611.79 269.05 L612.18 269.64 L612.60 270.21 L613.02 270.78 L613.47 271.34 L613.93 271.89 L614.42 272.41 L614.95 272.88 L615.53 273.28 L616.17 273.58 L616.83 273.76 L617.49 273.80 L618.13 273.68 L618.75 273.43 L619.33 273.07 L619.89 272.62 L620.41 272.10 L620.89 271.53 L621.34 270.93 L621.75 270.32 L622.12 269.72 L622.47 269.10 L622.79 268.49 L623.09 267.87 L623.38 267.25 L623.67 266.63 L623.95 266.01 L624.24 265.38 L624.52 264.76 L624.80 264.13 L625.08 263.50 L625.36 262.87 L625.64 262.24 L625.91 261.61 L626.19 260.97 L626.46 260.34 L626.73 259.70 L627.01 259.07 L627.28 258.43 L627.55 257.79 L627.81 257.15 L628.08 256.51 L628.34 255.87 L628.61 255.23 L628.87 254.58 L629.13 253.94 L629.39 253.30 L629.64 252.65 L629.90 252.01 L630.15 251.36 L630.41 250.71 L630.66 250.06 L630.91 249.41 L631.16 248.76 L631.41 248.11 L631.65 247.46 L631.90 246.81 L632.14 246.16 L632.38 245.50 L632.62 244.85 L632.86 244.20 L633.10 243.54 L633.33 242.88 L633.57 242.23 L633.80 241.57 L634.03 240.91 L634.26 240.25 L634.49 239.59 L634.72 238.93 L634.94 238.27 L635.17 237.61 L635.39 236.95 L635.61 236.29 L635.83 235.63 L636.05 234.96 L636.27 234.30 L636.48 233.64 L636.70 232.97 L636.91 232.31 L637.12 231.64 L637.33 230.97 L637.54 230.31 L637.75 229.64 L637.95 228.97 L638.16 228.30 L638.36 227.63 L638.56 226.97 L638.76 226.30 L638.96 225.63 L639.16 224.96 L639.35 224.29 L639.54 223.61 L639.74 222.94 L639.93 222.27 L640.12 221.60 L640.31 220.93 L640.49 220.25 L640.68 219.58 L640.86 218.91 L641.05 218.23 L641.23 217.56 L641.41 216.89 L641.59 216.21 L641.76 215.54 L641.94 214.86 L642.11 214.19 L642.29 213.51 L642.46 212.83 L642.63 212.16 L642.80 211.48 L642.96 210.80 L643.13 210.13 L643.29 209.45 L643.46 208.77 L643.62 208.10 L643.78 207.42 L643.94 206.74 L644.09 206.06 L644.25 205.39 L644.40 204.71 L644.56 204.03 L644.71 203.35 L644.86 202.67 L645.01 202.00 L645.15 201.32 L645.30 200.64 L645.44 199.96 L645.59 199.28 L645.73 198.60 L645.87 197.92 L646.01 197.24 L646.15 196.57 L646.28 195.89 L646.42 195.21 L646.55 194.53 L646.68 193.85 L646.81 193.17 L646.94 192.49 L647.07 191.81 L647.19 191.14 L647.32 190.46 L647.44 189.78 L647.56 189.10 L647.68 188.42 L647.80 187.75 L647.92 187.07 L648.04 186.39 L648.15 185.71 L648.26 185.03 L648.38 184.36 L648.49 183.68 L648.60 183.00 L648.70 182.33 L648.81 181.65 L648.91 180.97 L649.02 180.30 L649.12 179.62 L649.22 178.94 L649.32 178.27 L649.42 177.59 L649.51 176.92 L649.61 176.24 L649.70 175.57 L649.80 174.89 L649.89 174.22 L649.98 173.55 L650.06 172.87 L650.15 172.20 L650.24 171.53 L650.32 170.86 L650.40 170.18 L650.48 169.51 L650.56 168.84 L650.64 168.17 L650.72 167.50 L650.79 166.83 L650.87 166.16" fill="none" stroke="#000" stroke-width="1.7" stroke-linejoin="round"/>
<text transform="translate(600.6,15.5) scale(1.0608,1)" text-anchor="middle" >Tracking</text>
<text transform="translate(600.7,37.9) scale(1.0400,1)" text-anchor="middle" >error</text>
<text transform="translate(521,50.2) scale(1.0400,1)" text-anchor="end" >0.6</text>
<text transform="translate(521,89.1) scale(1.0400,1)" text-anchor="end" >0.4</text>
<text transform="translate(521,129.3) scale(1.0400,1)" text-anchor="end" >0.2</text>
<text transform="translate(521,170.5) scale(1.0400,1)" text-anchor="end" >0</text>
<text transform="translate(521,211.8) scale(1.0400,1)" text-anchor="end" >-0.2</text>
<text transform="translate(520.1,252.0) scale(1.0400,1)" text-anchor="end" >-0.4</text>
<text transform="translate(520.3,294.4) scale(1.0400,1)" text-anchor="end" >-0.6</text>
<text transform="translate(527.2,305.6) scale(1.0400,1)" text-anchor="middle" >0</text>
<text transform="translate(576.3,307.7) scale(1.0400,1)" text-anchor="middle" >0.2</text>
<text transform="translate(625.2,308.0) scale(1.0400,1)" text-anchor="middle" >0.4</text>
<text transform="translate(674.5,308.3) scale(1.0400,1)" text-anchor="middle" >0.6</text>
<text transform="translate(606.4,324.3) scale(1.0400,1)" text-anchor="middle" >Time (s)</text>
<text transform="translate(481.6,165.5) rotate(-90) scale(1.0400,1)" text-anchor="middle" ><tspan font-style="italic">e</tspan><tspan dx="1.6">(mm)</tspan></text>
<path d="M586.3 58.3H610.5" stroke="#00b050" stroke-width="1.6" stroke-dasharray="12 5.9" fill="none"/>
<path d="M587.5 71.05H608.2" stroke="#e27a22" stroke-width="2" stroke-dasharray="2.8 1.65" fill="none"/>
<path d="M588 83.8H610.5" stroke="#000" stroke-width="1.7" fill="none"/>
<text x="614.6" y="62.2" font-size="11.5" letter-spacing="0.13" stroke-width="0.2"><tspan font-style="italic">x</tspan> direction</text>
<text x="614.6" y="75.2" font-size="11.5" letter-spacing="0.13" stroke-width="0.2"><tspan font-style="italic">y</tspan> direction</text>
<text x="614.6" y="89.1" font-size="11.5" letter-spacing="0.13" stroke-width="0.2"><tspan font-style="italic">z</tspan> direction</text>
</g></svg>
</body></html>
